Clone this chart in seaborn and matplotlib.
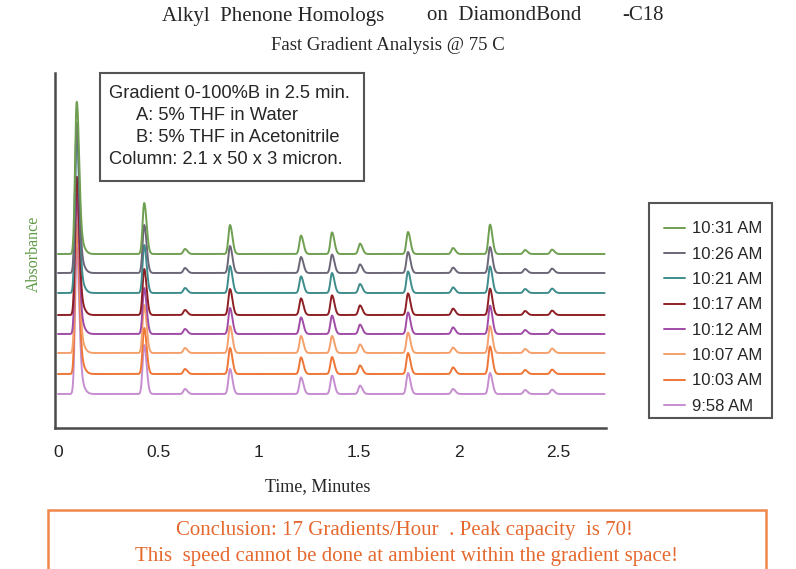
import numpy as np
import matplotlib.pyplot as plt
import seaborn as sns
from matplotlib.patches import Rectangle

# chart data
run_labels = ["10:31 AM", "10:26 AM", "10:21 AM", "10:17 AM",
              "10:12 AM", "10:07 AM", "10:03 AM", "9:58 AM"]
run_colors = ["#6f9f50", "#6c6678", "#3f8c8c", "#8e1f25",
              "#a04ca6", "#f4a06c", "#ee7636", "#c68ed0"]
# vertical offset of each stacked trace (absorbance units of the plot)
baselines = [8.7, 7.75, 6.75, 5.65, 4.7, 3.75, 2.7, 1.7]

peak_times = [0.09, 0.428, 0.632, 0.857, 1.212, 1.367, 1.507, 1.747, 1.972, 2.157, 2.332, 2.467]

h_1031 = [7.1, 2.55, 0.25, 1.45, 0.92, 1.08, 0.52, 1.10, 0.30, 1.47, 0.20, 0.22]
h_1026 = [7.0, 2.40, 0.25, 1.35, 0.80, 0.92, 0.43, 1.05, 0.27, 1.30, 0.20, 0.22]
h_1021 = [7.6, 2.40, 0.25, 1.35, 0.83, 1.00, 0.45, 1.08, 0.28, 1.33, 0.20, 0.22]
h_1017 = [6.4, 2.30, 0.25, 1.30, 0.83, 0.98, 0.48, 1.08, 0.32, 1.32, 0.20, 0.22]
h_1012 = [6.5, 2.30, 0.25, 1.30, 0.83, 0.92, 0.47, 1.08, 0.33, 1.42, 0.20, 0.22]
h_1007 = [7.1, 2.40, 0.25, 1.35, 0.85, 0.85, 0.43, 1.02, 0.27, 1.35, 0.20, 0.22]
h_1003 = [7.0, 2.30, 0.25, 1.30, 0.83, 0.85, 0.43, 1.05, 0.33, 1.38, 0.20, 0.22]
h_0958 = [6.8, 2.45, 0.25, 1.25, 0.83, 0.92, 0.42, 1.05, 0.25, 1.05, 0.20, 0.22]
run_heights = [h_1031, h_1026, h_1021, h_1017, h_1012, h_1007, h_1003, h_0958]

# tailing shoulder behind the unretained peak
void_tail_time = 0.1
void_tail_height = 0.8

xtick_values = [0, 0.5, 1, 1.5, 2, 2.5]
xtick_labels = ["0", "0.5", "1", "1.5", "2", "2.5"]

W, H = 796, 569


def fx(px):
    return px / W


def fy(py):
    return 1 - py / H


def peak(t, t0, h, sl, sr):
    s = np.where(t < t0, sl, sr)
    return h * np.exp(-0.5 * ((t - t0) / s) ** 2)


sns.set_theme(style="white")
plt.rcParams['font.family'] = ['Liberation Sans', 'DejaVu Sans']

fig = plt.figure(figsize=(7.96, 5.69), dpi=100)
ax = fig.add_axes([fx(55), fy(428), fx(606) - fx(55), fy(73) - fy(428)])

t = np.linspace(-0.003, 2.73, 4000)
for i in reversed(range(len(run_labels))):
    y = np.full_like(t, baselines[i])
    for t0, h in zip(peak_times, run_heights[i]):
        y += peak(t, t0, h, 0.008, 0.012)
    y += peak(t, void_tail_time, void_tail_height, 0.01, 0.022)
    sns.lineplot(x=t, y=y, ax=ax, color=run_colors[i], lw=1.4,
                 estimator=None, sort=False, label=run_labels[i])

ax.set_xlim(-0.018, 2.737)
ax.set_ylim(0, 17.75)
ax.set_xticks(xtick_values)
ax.set_xticklabels(xtick_labels)
ax.set_yticks([])
ax.set_xlabel("")
ax.set_ylabel("")
ax.tick_params(axis="x", length=0, pad=12, labelsize=12.5, labelcolor="#222222")
for s in ["top", "right"]:
    ax.spines[s].set_visible(False)
for s in ["left", "bottom"]:
    ax.spines[s].set_color("#4a4a4a")
    ax.spines[s].set_linewidth(1.8)

# legend, drawn without its own frame and boxed by hand
h, l = ax.get_legend_handles_labels()
order = [l.index(lab) for lab in run_labels]
ax.get_legend().remove()
fig.legend([h[j] for j in order], [l[j] for j in order],
           loc="upper left", bbox_to_anchor=(fx(656), fy(213)),
           frameon=False, fontsize=12, handlelength=1.25, handletextpad=0.4,
           labelspacing=0.62, borderpad=0)
fig.patches.append(Rectangle((fx(649), fy(418)), fx(772) - fx(649), fy(203) - fy(418),
                             transform=fig.transFigure, fill=False,
                             edgecolor="#555555", lw=1.5))

# method box
fig.patches.append(Rectangle((fx(100), fy(181)), fx(364) - fx(100), fy(73) - fy(181),
                             transform=fig.transFigure, facecolor="white",
                             edgecolor="#555555", lw=1.5, zorder=5))
fig.text(fx(109), fy(94), "Gradient 0-100%B in 2.5 min.", fontsize=13.2, va="center", zorder=6)
fig.text(fx(136), fy(116), "A: 5% THF in Water", fontsize=13.2, va="center", zorder=6)
fig.text(fx(136), fy(138), "B: 5% THF in Acetonitrile", fontsize=13.2, va="center", zorder=6)
fig.text(fx(109), fy(160), "Column: 2.1 x 50 x 3 micron.", fontsize=13.2, va="center", zorder=6)

# titles and axis labels (serif)
serif = ['Liberation Serif', 'DejaVu Serif']
fig.text(fx(162), fy(16), "Alkyl  Phenone Homologs", family=serif, fontsize=15, va="center")
fig.text(fx(427), fy(16), "on  DiamondBond", family=serif, fontsize=15, va="center")
fig.text(fx(622), fy(16), "-C18", family=serif, fontsize=15, va="center")
fig.text(fx(388), fy(45), "Fast Gradient Analysis @ 75 C", family=serif, fontsize=13.5,
         ha="center", va="center")
fig.text(fx(34), fy(254), "Absorbance", family=serif, fontsize=11.5, color="#5e9a45",
         rotation=90, ha="center", va="center")
fig.text(fx(318), fy(487), "Time, Minutes", family=serif, fontsize=13,
         ha="center", va="center")

# conclusion box
fig.patches.append(Rectangle((fx(48), fy(600)), fx(766) - fx(48), fy(510) - fy(600),
                             transform=fig.transFigure, fill=False,
                             edgecolor="#f0884a", lw=1.8))
fig.text(fx(405), fy(531), "Conclusion: 17 Gradients/Hour  . Peak capacity  is 70!",
         family=serif, fontsize=15, color="#e5692f", ha="center", va="center")
fig.text(fx(407), fy(557), "This  speed cannot be done at ambient within the gradient space!",
         family=serif, fontsize=15, color="#e5692f", ha="center", va="center")

fig.savefig("out.png", dpi=100)
